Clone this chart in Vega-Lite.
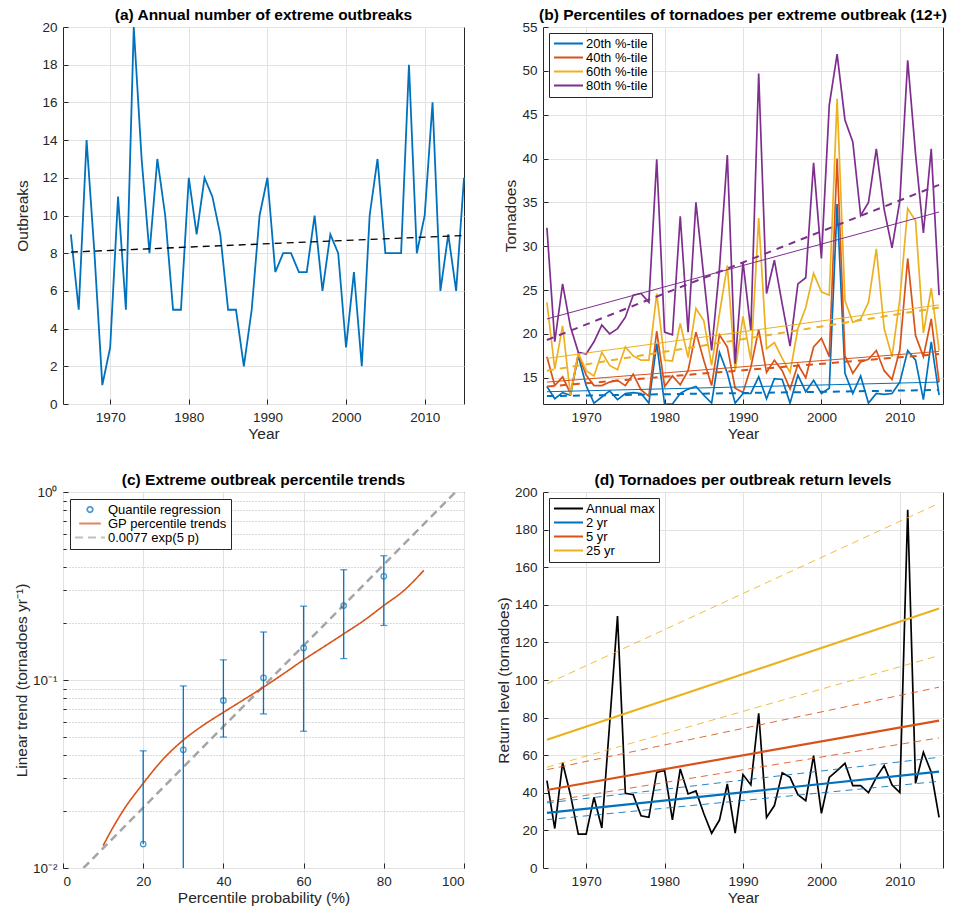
{
"$schema": "https://vega.github.io/schema/vega-lite/v6.json",
"padding": {"left": 13, "top": 7, "right": 5, "bottom": 3},
"background": "white",
"bounds": "flush",
"columns": 2,
"spacing": {"row": 88, "column": 79},
"resolve": {"scale": {"color": "independent", "strokeDash": "independent", "shape": "independent", "size": "independent"}, "legend": {"color": "independent", "strokeDash": "independent", "shape": "independent", "size": "independent"}},
"datasets": {
"a": [{"year":1965,"n":9},{"year":1966,"n":5},{"year":1967,"n":14},{"year":1968,"n":8},{"year":1969,"n":1},{"year":1970,"n":3},{"year":1971,"n":11},{"year":1972,"n":5},{"year":1973,"n":20},{"year":1974,"n":13},{"year":1975,"n":8},{"year":1976,"n":13},{"year":1977,"n":10},{"year":1978,"n":5},{"year":1979,"n":5},{"year":1980,"n":12},{"year":1981,"n":9},{"year":1982,"n":12},{"year":1983,"n":11},{"year":1984,"n":9},{"year":1985,"n":5},{"year":1986,"n":5},{"year":1987,"n":2},{"year":1988,"n":5},{"year":1989,"n":10},{"year":1990,"n":12},{"year":1991,"n":7},{"year":1992,"n":8},{"year":1993,"n":8},{"year":1994,"n":7},{"year":1995,"n":7},{"year":1996,"n":10},{"year":1997,"n":6},{"year":1998,"n":9},{"year":1999,"n":8},{"year":2000,"n":3},{"year":2001,"n":7},{"year":2002,"n":2},{"year":2003,"n":10},{"year":2004,"n":13},{"year":2005,"n":8},{"year":2006,"n":8},{"year":2007,"n":8},{"year":2008,"n":18},{"year":2009,"n":8},{"year":2010,"n":10},{"year":2011,"n":16},{"year":2012,"n":6},{"year":2013,"n":9},{"year":2014,"n":6},{"year":2015,"n":12}],
"aTrend": [{"year":1965,"n":8.06},{"year":2015,"n":8.94}],
"b": [
{"year":1965,"s":"20th %-tile","v":14.0},{"year":1966,"s":"20th %-tile","v":12.6},{"year":1967,"s":"20th %-tile","v":13.3},{"year":1968,"s":"20th %-tile","v":13.0},{"year":1969,"s":"20th %-tile","v":17.5},{"year":1970,"s":"20th %-tile","v":14.1},{"year":1971,"s":"20th %-tile","v":12.1},{"year":1972,"s":"20th %-tile","v":12.8},{"year":1973,"s":"20th %-tile","v":13.5},{"year":1974,"s":"20th %-tile","v":12.5},
{"year":1975,"s":"20th %-tile","v":13.2},{"year":1976,"s":"20th %-tile","v":13.3},{"year":1977,"s":"20th %-tile","v":13.2},{"year":1978,"s":"20th %-tile","v":12.1},{"year":1979,"s":"20th %-tile","v":18.9},{"year":1980,"s":"20th %-tile","v":12.0},{"year":1981,"s":"20th %-tile","v":12.0},{"year":1982,"s":"20th %-tile","v":13.2},{"year":1983,"s":"20th %-tile","v":13.7},{"year":1984,"s":"20th %-tile","v":14.0},
{"year":1985,"s":"20th %-tile","v":13.0},{"year":1986,"s":"20th %-tile","v":12.1},{"year":1987,"s":"20th %-tile","v":17.9},{"year":1988,"s":"20th %-tile","v":15.5},{"year":1989,"s":"20th %-tile","v":12.1},{"year":1990,"s":"20th %-tile","v":13.2},{"year":1991,"s":"20th %-tile","v":13.2},{"year":1992,"s":"20th %-tile","v":15.1},{"year":1993,"s":"20th %-tile","v":12.6},{"year":1994,"s":"20th %-tile","v":14.9},
{"year":1995,"s":"20th %-tile","v":14.8},{"year":1996,"s":"20th %-tile","v":12.1},{"year":1997,"s":"20th %-tile","v":15.3},{"year":1998,"s":"20th %-tile","v":13.4},{"year":1999,"s":"20th %-tile","v":14.7},{"year":2000,"s":"20th %-tile","v":13.2},{"year":2001,"s":"20th %-tile","v":13.8},{"year":2002,"s":"20th %-tile","v":34.8},{"year":2003,"s":"20th %-tile","v":15.5},{"year":2004,"s":"20th %-tile","v":13.2},
{"year":2005,"s":"20th %-tile","v":15.2},{"year":2006,"s":"20th %-tile","v":12.1},{"year":2007,"s":"20th %-tile","v":13.2},{"year":2008,"s":"20th %-tile","v":13.1},{"year":2009,"s":"20th %-tile","v":13.2},{"year":2010,"s":"20th %-tile","v":14.5},{"year":2011,"s":"20th %-tile","v":18.1},{"year":2012,"s":"20th %-tile","v":17.0},{"year":2013,"s":"20th %-tile","v":12.5},{"year":2014,"s":"20th %-tile","v":19.1},{"year":2015,"s":"20th %-tile","v":13.0},
{"year":1965,"s":"40th %-tile","v":17.4},{"year":1966,"s":"40th %-tile","v":14.1},{"year":1967,"s":"40th %-tile","v":15.1},{"year":1968,"s":"40th %-tile","v":13.2},{"year":1969,"s":"40th %-tile","v":17.7},{"year":1970,"s":"40th %-tile","v":15.3},{"year":1971,"s":"40th %-tile","v":14.1},{"year":1972,"s":"40th %-tile","v":14.1},{"year":1973,"s":"40th %-tile","v":14.5},{"year":1974,"s":"40th %-tile","v":14.7},
{"year":1975,"s":"40th %-tile","v":14.1},{"year":1976,"s":"40th %-tile","v":15.4},{"year":1977,"s":"40th %-tile","v":13.6},{"year":1978,"s":"40th %-tile","v":12.9},{"year":1979,"s":"40th %-tile","v":20.3},{"year":1980,"s":"40th %-tile","v":14.0},{"year":1981,"s":"40th %-tile","v":15.2},{"year":1982,"s":"40th %-tile","v":14.2},{"year":1983,"s":"40th %-tile","v":15.8},{"year":1984,"s":"40th %-tile","v":20.2},
{"year":1985,"s":"40th %-tile","v":17.0},{"year":1986,"s":"40th %-tile","v":14.1},{"year":1987,"s":"40th %-tile","v":19.9},{"year":1988,"s":"40th %-tile","v":18.5},{"year":1989,"s":"40th %-tile","v":13.8},{"year":1990,"s":"40th %-tile","v":13.3},{"year":1991,"s":"40th %-tile","v":16.2},{"year":1992,"s":"40th %-tile","v":20.5},{"year":1993,"s":"40th %-tile","v":15.6},{"year":1994,"s":"40th %-tile","v":17.0},
{"year":1995,"s":"40th %-tile","v":15.8},{"year":1996,"s":"40th %-tile","v":13.7},{"year":1997,"s":"40th %-tile","v":16.5},{"year":1998,"s":"40th %-tile","v":15.0},{"year":1999,"s":"40th %-tile","v":18.5},{"year":2000,"s":"40th %-tile","v":19.5},{"year":2001,"s":"40th %-tile","v":17.4},{"year":2002,"s":"40th %-tile","v":40.0},{"year":2003,"s":"40th %-tile","v":17.5},{"year":2004,"s":"40th %-tile","v":15.5},
{"year":2005,"s":"40th %-tile","v":16.8},{"year":2006,"s":"40th %-tile","v":17.1},{"year":2007,"s":"40th %-tile","v":18.1},{"year":2008,"s":"40th %-tile","v":15.8},{"year":2009,"s":"40th %-tile","v":14.8},{"year":2010,"s":"40th %-tile","v":18.2},{"year":2011,"s":"40th %-tile","v":28.6},{"year":2012,"s":"40th %-tile","v":19.8},{"year":2013,"s":"40th %-tile","v":17.4},{"year":2014,"s":"40th %-tile","v":21.7},{"year":2015,"s":"40th %-tile","v":14.5},
{"year":1965,"s":"60th %-tile","v":23.6},{"year":1966,"s":"60th %-tile","v":16.0},{"year":1967,"s":"60th %-tile","v":20.9},{"year":1968,"s":"60th %-tile","v":13.0},{"year":1969,"s":"60th %-tile","v":17.8},{"year":1970,"s":"60th %-tile","v":15.8},{"year":1971,"s":"60th %-tile","v":15.2},{"year":1972,"s":"60th %-tile","v":17.9},{"year":1973,"s":"60th %-tile","v":16.4},{"year":1974,"s":"60th %-tile","v":15.9},
{"year":1975,"s":"60th %-tile","v":18.5},{"year":1976,"s":"60th %-tile","v":17.5},{"year":1977,"s":"60th %-tile","v":17.0},{"year":1978,"s":"60th %-tile","v":17.0},{"year":1979,"s":"60th %-tile","v":24.6},{"year":1980,"s":"60th %-tile","v":17.0},{"year":1981,"s":"60th %-tile","v":16.9},{"year":1982,"s":"60th %-tile","v":21.2},{"year":1983,"s":"60th %-tile","v":17.3},{"year":1984,"s":"60th %-tile","v":22.9},
{"year":1985,"s":"60th %-tile","v":21.5},{"year":1986,"s":"60th %-tile","v":16.4},{"year":1987,"s":"60th %-tile","v":22.3},{"year":1988,"s":"60th %-tile","v":27.8},{"year":1989,"s":"60th %-tile","v":15.8},{"year":1990,"s":"60th %-tile","v":22.0},{"year":1991,"s":"60th %-tile","v":17.0},{"year":1992,"s":"60th %-tile","v":33.2},{"year":1993,"s":"60th %-tile","v":18.3},{"year":1994,"s":"60th %-tile","v":19.0},
{"year":1995,"s":"60th %-tile","v":17.2},{"year":1996,"s":"60th %-tile","v":15.6},{"year":1997,"s":"60th %-tile","v":20.6},{"year":1998,"s":"60th %-tile","v":23.0},{"year":1999,"s":"60th %-tile","v":26.9},{"year":2000,"s":"60th %-tile","v":24.8},{"year":2001,"s":"60th %-tile","v":24.4},{"year":2002,"s":"60th %-tile","v":46.8},{"year":2003,"s":"60th %-tile","v":23.8},{"year":2004,"s":"60th %-tile","v":21.3},
{"year":2005,"s":"60th %-tile","v":21.7},{"year":2006,"s":"60th %-tile","v":23.6},{"year":2007,"s":"60th %-tile","v":29.7},{"year":2008,"s":"60th %-tile","v":20.6},{"year":2009,"s":"60th %-tile","v":17.4},{"year":2010,"s":"60th %-tile","v":24.0},{"year":2011,"s":"60th %-tile","v":34.3},{"year":2012,"s":"60th %-tile","v":32.9},{"year":2013,"s":"60th %-tile","v":20.1},{"year":2014,"s":"60th %-tile","v":25.2},{"year":2015,"s":"60th %-tile","v":18.1},
{"year":1965,"s":"80th %-tile","v":32.1},{"year":1966,"s":"80th %-tile","v":19.1},{"year":1967,"s":"80th %-tile","v":25.7},{"year":1968,"s":"80th %-tile","v":20.8},{"year":1969,"s":"80th %-tile","v":17.9},{"year":1970,"s":"80th %-tile","v":17.7},{"year":1971,"s":"80th %-tile","v":19.1},{"year":1972,"s":"80th %-tile","v":21.0},{"year":1973,"s":"80th %-tile","v":20.0},{"year":1974,"s":"80th %-tile","v":20.6},
{"year":1975,"s":"80th %-tile","v":21.9},{"year":1976,"s":"80th %-tile","v":24.4},{"year":1977,"s":"80th %-tile","v":24.6},{"year":1978,"s":"80th %-tile","v":23.6},{"year":1979,"s":"80th %-tile","v":39.9},{"year":1980,"s":"80th %-tile","v":20.2},{"year":1981,"s":"80th %-tile","v":19.9},{"year":1982,"s":"80th %-tile","v":33.4},{"year":1983,"s":"80th %-tile","v":20.2},{"year":1984,"s":"80th %-tile","v":35.0},
{"year":1985,"s":"80th %-tile","v":26.5},{"year":1986,"s":"80th %-tile","v":18.1},{"year":1987,"s":"80th %-tile","v":27.5},{"year":1988,"s":"80th %-tile","v":40.4},{"year":1989,"s":"80th %-tile","v":16.6},{"year":1990,"s":"80th %-tile","v":28.2},{"year":1991,"s":"80th %-tile","v":20.4},{"year":1992,"s":"80th %-tile","v":49.7},{"year":1993,"s":"80th %-tile","v":24.6},{"year":1994,"s":"80th %-tile","v":28.4},
{"year":1995,"s":"80th %-tile","v":23.4},{"year":1996,"s":"80th %-tile","v":18.6},{"year":1997,"s":"80th %-tile","v":25.7},{"year":1998,"s":"80th %-tile","v":26.4},{"year":1999,"s":"80th %-tile","v":39.5},{"year":2000,"s":"80th %-tile","v":28.6},{"year":2001,"s":"80th %-tile","v":46.1},{"year":2002,"s":"80th %-tile","v":51.9},{"year":2003,"s":"80th %-tile","v":44.4},{"year":2004,"s":"80th %-tile","v":41.9},
{"year":2005,"s":"80th %-tile","v":33.5},{"year":2006,"s":"80th %-tile","v":35.0},{"year":2007,"s":"80th %-tile","v":41.1},{"year":2008,"s":"80th %-tile","v":34.2},{"year":2009,"s":"80th %-tile","v":29.8},{"year":2010,"s":"80th %-tile","v":35.2},{"year":2011,"s":"80th %-tile","v":51.2},{"year":2012,"s":"80th %-tile","v":40.5},{"year":2013,"s":"80th %-tile","v":31.5},{"year":2014,"s":"80th %-tile","v":41.1},{"year":2015,"s":"80th %-tile","v":24.4}
],
"bTrend": [
{"s":"20th %-tile","k":"fit","year":1965,"v":13.4},{"s":"20th %-tile","k":"fit","year":2015,"v":14.5},
{"s":"20th %-tile","k":"dash","year":1965,"v":12.9},{"s":"20th %-tile","k":"dash","year":2015,"v":13.6},
{"s":"40th %-tile","k":"fit","year":1965,"v":14.5},{"s":"40th %-tile","k":"fit","year":2015,"v":18.0},
{"s":"40th %-tile","k":"dash","year":1965,"v":14.0},{"s":"40th %-tile","k":"dash","year":2015,"v":17.7},
{"s":"60th %-tile","k":"fit","year":1965,"v":17.2},{"s":"60th %-tile","k":"fit","year":2015,"v":23.3},
{"s":"60th %-tile","k":"dash","year":1965,"v":15.8},{"s":"60th %-tile","k":"dash","year":2015,"v":23.0},
{"s":"80th %-tile","k":"fit","year":1965,"v":21.7},{"s":"80th %-tile","k":"fit","year":2015,"v":33.9},
{"s":"80th %-tile","k":"dash","year":1965,"v":19.3},{"s":"80th %-tile","k":"dash","year":2015,"v":37.0}
],
"cq": [{"p":20,"q":0.0134,"lo":0.0134,"hi":0.042},{"p":30,"q":0.0425,"lo":0.01,"hi":0.093},{"p":40,"q":0.0778,"lo":0.0497,"hi":0.128},{"p":50,"q":0.1027,"lo":0.066,"hi":0.18},{"p":60,"q":0.148,"lo":0.0534,"hi":0.247},{"p":70,"q":0.249,"lo":0.13,"hi":0.386},{"p":80,"q":0.356,"lo":0.195,"hi":0.458}],
"ccap": [{"p":20,"v":0.042},{"p":30,"v":0.093},{"p":40,"v":0.128},{"p":40,"v":0.0497},{"p":50,"v":0.18},{"p":50,"v":0.066},{"p":60,"v":0.247},{"p":60,"v":0.0534},{"p":70,"v":0.386},{"p":70,"v":0.13},{"p":80,"v":0.458},{"p":80,"v":0.195}],
"cgp": [{"p":10,"t":0.01315},{"p":12.5,"t":0.01648},{"p":15,"t":0.0202},{"p":20,"t":0.0282},{"p":25,"t":0.038},{"p":30,"t":0.0479},{"p":35,"t":0.0575},{"p":40,"t":0.0673},{"p":45,"t":0.0784},{"p":50,"t":0.0916},{"p":55,"t":0.108},{"p":60,"t":0.128},{"p":65,"t":0.15},{"p":70,"t":0.176},{"p":75,"t":0.207},{"p":80,"t":0.249},{"p":85,"t":0.299},{"p":90,"t":0.383}],
"cexp": [{"p":5.1,"t":0.01},{"p":97.9,"t":1.0}],
"d": [{"year":1965,"v":46.5},{"year":1966,"v":21},{"year":1967,"v":56},{"year":1968,"v":39},{"year":1969,"v":18},{"year":1970,"v":18},{"year":1971,"v":37.6},{"year":1972,"v":21.3},{"year":1973,"v":77},{"year":1974,"v":134},{"year":1975,"v":39.7},{"year":1976,"v":39},{"year":1977,"v":27.8},{"year":1978,"v":27},{"year":1979,"v":50.9},{"year":1980,"v":52},{"year":1981,"v":25.6},{"year":1982,"v":52.7},{"year":1983,"v":39.4},{"year":1984,"v":41},{"year":1985,"v":29},{"year":1986,"v":18.5},{"year":1987,"v":25.5},{"year":1988,"v":44.7},{"year":1989,"v":18.5},{"year":1990,"v":49.7},{"year":1991,"v":44.2},{"year":1992,"v":82.3},{"year":1993,"v":26.9},{"year":1994,"v":33.2},{"year":1995,"v":50.6},{"year":1996,"v":48.2},{"year":1997,"v":39},{"year":1998,"v":35.8},{"year":1999,"v":59.8},{"year":2000,"v":29.1},{"year":2001,"v":48.2},{"year":2002,"v":51.8},{"year":2003,"v":55.7},{"year":2004,"v":43.8},{"year":2005,"v":43.8},{"year":2006,"v":40.1},{"year":2007,"v":48.2},{"year":2008,"v":54.5},{"year":2009,"v":44.2},{"year":2010,"v":40.1},{"year":2011,"v":190.6},{"year":2012,"v":45},{"year":2013,"v":61.6},{"year":2014,"v":50.9},{"year":2015,"v":26.9}],
"dTrend": [
{"s":"2 yr","k":"fit","year":1965,"v":29.3},{"s":"2 yr","k":"fit","year":2015,"v":51.3},
{"s":"2 yr","k":"up","year":1965,"v":34.6},{"s":"2 yr","k":"up","year":2015,"v":58.9},
{"s":"2 yr","k":"lo","year":1965,"v":25.7},{"s":"2 yr","k":"lo","year":2015,"v":46.1},
{"s":"5 yr","k":"fit","year":1965,"v":41.5},{"s":"5 yr","k":"fit","year":2015,"v":78.4},
{"s":"5 yr","k":"up","year":1965,"v":52.3},{"s":"5 yr","k":"up","year":2015,"v":96.2},
{"s":"5 yr","k":"lo","year":1965,"v":35.3},{"s":"5 yr","k":"lo","year":2015,"v":69.2},
{"s":"25 yr","k":"fit","year":1965,"v":68.2},{"s":"25 yr","k":"fit","year":2015,"v":138},
{"s":"25 yr","k":"up","year":1965,"v":98},{"s":"25 yr","k":"up","year":2015,"v":194},
{"s":"25 yr","k":"lo","year":1965,"v":53.6},{"s":"25 yr","k":"lo","year":2015,"v":113}
]
},
"concat": [
{
"width": 401, "height": 377,
"title": {"text": "(a) Annual number of extreme outbreaks"},
"layer": [
{"data": {"name": "a"}, "mark": {"type": "line", "color": "#0072BD", "strokeWidth": 1.8},
 "encoding": {
  "x": {"field": "year", "type": "quantitative", "scale": {"domain": [1964, 2015], "nice": false, "zero": false}, "axis": {"title": "Year", "values": [1970,1980,1990,2000,2010], "format": "d", "tickCount": 40}},
  "y": {"field": "n", "type": "quantitative", "scale": {"domain": [0, 20], "nice": false}, "axis": {"title": "Outbreaks", "values": [0,2,4,6,8,10,12,14,16,18,20], "format": "d", "tickCount": 40, "titlePadding": 11}}}},
{"data": {"name": "aTrend"}, "mark": {"type": "line", "color": "#000000", "strokeWidth": 1.3, "strokeDash": [7, 5]},
 "encoding": {"x": {"field": "year", "type": "quantitative"}, "y": {"field": "n", "type": "quantitative"}}}
]
},
{
"width": 400, "height": 377,
"title": {"text": "(b) Percentiles of tornadoes per extreme outbreak (12+)"},
"layer": [
{"data": {"name": "b"}, "mark": {"type": "line", "strokeWidth": 1.7, "clip": true},
 "encoding": {
  "x": {"field": "year", "type": "quantitative", "scale": {"domain": [1964.5, 2015.5], "nice": false, "zero": false}, "axis": {"title": "Year", "values": [1970,1980,1990,2000,2010], "format": "d", "tickCount": 40}},
  "y": {"field": "v", "type": "quantitative", "scale": {"domain": [12, 55], "nice": false, "zero": false}, "axis": {"title": "Tornadoes", "values": [15,20,25,30,35,40,45,50,55], "format": "d", "tickCount": 40}},
  "color": {"field": "s", "type": "nominal", "scale": {"domain": ["20th %-tile","40th %-tile","60th %-tile","80th %-tile"], "range": ["#0072BD","#D95319","#EDB120","#7E2F8E"]}, "legend": {"title": null}}}},
{"data": {"name": "bTrend"}, "transform": [{"filter": "datum.k == 'fit'"}], "mark": {"type": "line", "strokeWidth": 1, "clip": true},
 "encoding": {"x": {"field": "year", "type": "quantitative"}, "y": {"field": "v", "type": "quantitative"}, "color": {"field": "s", "type": "nominal", "legend": null}}},
{"data": {"name": "bTrend"}, "transform": [{"filter": "datum.k == 'dash'"}], "mark": {"type": "line", "strokeWidth": 2, "strokeDash": [7, 6], "clip": true},
 "encoding": {"x": {"field": "year", "type": "quantitative"}, "y": {"field": "v", "type": "quantitative"}, "color": {"field": "s", "type": "nominal", "legend": null}}}
]
},
{
"width": 401, "height": 376,
"title": {"text": "(c) Extreme outbreak percentile trends"},
"resolve": {"axis": {"y": "independent"}},
"layer": [
{"data": {"name": "cexp"}, "mark": {"type": "line", "strokeWidth": 2.5, "clip": true},
 "transform": [{"calculate": "'0.0077 exp(5 p)'", "as": "s"}],
 "encoding": {
  "x": {"field": "p", "type": "quantitative", "scale": {"domain": [0, 100], "nice": false}, "axis": {"title": "Percentile probability (%)", "values": [0,20,40,60,80,100], "tickCount": 40}},
  "y": {"field": "t", "type": "quantitative", "scale": {"type": "log", "domain": [0.01, 1], "nice": false}, "axis": {"title": "Linear trend (tornadoes yr⁻¹)", "values": [0.01, 0.1, 1], "tickCount": 40, "labelExpr": "datum.value < 0.05 ? '10⁻²' : (datum.value < 0.5 ? '10⁻¹' : '10⁰')", "orient": "left"}},
  "color": {"field": "s", "type": "nominal", "scale": {"domain": ["Quantile regression","GP percentile trends","0.0077 exp(5 p)"], "range": ["#0072BD","#D95319","#A5A5A5"]}, "legend": {"title": null, "offset": 7}},
  "strokeDash": {"field": "s", "type": "nominal", "scale": {"domain": ["Quantile regression","GP percentile trends","0.0077 exp(5 p)"], "range": [[1,0],[1,0],[8,5]]}, "legend": {"title": null, "offset": 7}}}},
{"data": {"name": "cgp"}, "mark": {"type": "line", "strokeWidth": 1.6, "interpolate": "monotone"},
 "transform": [{"calculate": "'GP percentile trends'", "as": "s"}],
 "encoding": {
  "x": {"field": "p", "type": "quantitative"},
  "y": {"field": "t", "type": "quantitative", "axis": {"values": [0.02,0.03,0.04,0.05,0.06,0.07,0.08,0.09,0.2,0.3,0.4,0.5,0.6,0.7,0.8,0.9], "tickCount": 40, "labels": false, "title": null, "domain": false, "ticks": true, "tickSize": -3, "grid": true, "gridDash": [1, 2], "gridColor": "#b4b4b4", "orient": "left"}},
  "color": {"field": "s", "type": "nominal", "scale": {"domain": ["Quantile regression","GP percentile trends","0.0077 exp(5 p)"]}, "legend": {"title": null, "offset": 7}},
  "strokeDash": {"field": "s", "type": "nominal", "scale": {"domain": ["Quantile regression","GP percentile trends","0.0077 exp(5 p)"]}, "legend": {"title": null, "offset": 7}}}},
{"data": {"name": "cq"}, "mark": {"type": "rule", "color": "#0072BD", "strokeWidth": 1.3},
 "encoding": {"x": {"field": "p", "type": "quantitative"}, "y": {"field": "lo", "type": "quantitative", "axis": null}, "y2": {"field": "hi"}}},
{"data": {"name": "ccap"}, "mark": {"type": "tick", "orient": "horizontal", "color": "#0072BD", "size": 7, "thickness": 1.3},
 "encoding": {"x": {"field": "p", "type": "quantitative"}, "y": {"field": "v", "type": "quantitative", "axis": null}}},
{"data": {"name": "cq"}, "mark": {"type": "point", "filled": false, "strokeWidth": 1.3},
 "transform": [{"calculate": "'Quantile regression'", "as": "s"}],
 "encoding": {"x": {"field": "p", "type": "quantitative"}, "y": {"field": "q", "type": "quantitative", "axis": null},
  "color": {"field": "s", "type": "nominal", "scale": {"domain": ["Quantile regression","GP percentile trends","0.0077 exp(5 p)"]}, "legend": {"title": null, "offset": 7}},
  "shape": {"field": "s", "type": "nominal", "scale": {"domain": ["Quantile regression","GP percentile trends","0.0077 exp(5 p)"], "range": ["circle","stroke","stroke"]}, "legend": {"title": null, "offset": 7}},
  "size": {"field": "s", "type": "nominal", "scale": {"domain": ["Quantile regression","GP percentile trends","0.0077 exp(5 p)"], "range": [30, 900, 900]}, "legend": {"title": null, "offset": 7}}}}
]
},
{
"width": 400, "height": 376,
"title": {"text": "(d) Tornadoes per outbreak return levels"},
"layer": [
{"data": {"name": "d"}, "mark": {"type": "line", "strokeWidth": 1.7},
 "transform": [{"calculate": "'Annual max'", "as": "s"}],
 "encoding": {
  "x": {"field": "year", "type": "quantitative", "scale": {"domain": [1964.5, 2015.5], "nice": false, "zero": false}, "axis": {"title": "Year", "values": [1970,1980,1990,2000,2010], "format": "d", "tickCount": 40}},
  "y": {"field": "v", "type": "quantitative", "scale": {"domain": [0, 200], "nice": false}, "axis": {"title": "Return level (tornadoes)", "values": [0,20,40,60,80,100,120,140,160,180,200], "format": "d", "tickCount": 40}},
  "color": {"field": "s", "type": "nominal", "scale": {"domain": ["Annual max","2 yr","5 yr","25 yr"], "range": ["#000000","#0072BD","#D95319","#EDB120"]}, "legend": {"title": null}}}},
{"data": {"name": "dTrend"}, "transform": [{"filter": "datum.k == 'fit'"}], "mark": {"type": "line", "strokeWidth": 2.2},
 "encoding": {"x": {"field": "year", "type": "quantitative"}, "y": {"field": "v", "type": "quantitative"}, "color": {"field": "s", "type": "nominal", "legend": null}}},
{"data": {"name": "dTrend"}, "transform": [{"filter": "datum.k != 'fit'"}], "mark": {"type": "line", "strokeWidth": 1, "strokeDash": [7, 5], "opacity": 0.85},
 "encoding": {"x": {"field": "year", "type": "quantitative"}, "y": {"field": "v", "type": "quantitative"}, "color": {"field": "s", "type": "nominal", "legend": null}, "detail": {"field": "k", "type": "nominal"}}}
]
}
],
"config": {
 "font": "Liberation Sans",
 "view": {"stroke": "#262626", "strokeWidth": 1},
 "axis": {"labelFont": "Liberation Sans", "labelFontSize": 13.5, "labelColor": "#262626", "labelOverlap": false, "titleFont": "Liberation Sans", "titleFontSize": 15.5, "titleFontWeight": "normal", "titleColor": "#262626", "gridColor": "#e2e2e2", "gridWidth": 1, "domain": false, "tickColor": "#262626", "tickSize": -5, "labelPadding": 11, "titlePadding": 3},
 "title": {"font": "Liberation Sans", "fontSize": 15.5, "fontWeight": "bold", "color": "#000000", "offset": -3, "anchor": "middle", "frame": "group"},
 "legend": {"orient": "top-left", "offset": 6, "padding": 4, "strokeColor": "#262626", "fillColor": "#ffffff", "labelFont": "Liberation Sans", "labelFontSize": 13, "labelColor": "#000000", "symbolSize": 841, "symbolStrokeWidth": 1.8, "symbolType": "stroke", "clipHeight": 13, "rowPadding": 0, "labelOffset": 2, "cornerRadius": 0}
}
}
